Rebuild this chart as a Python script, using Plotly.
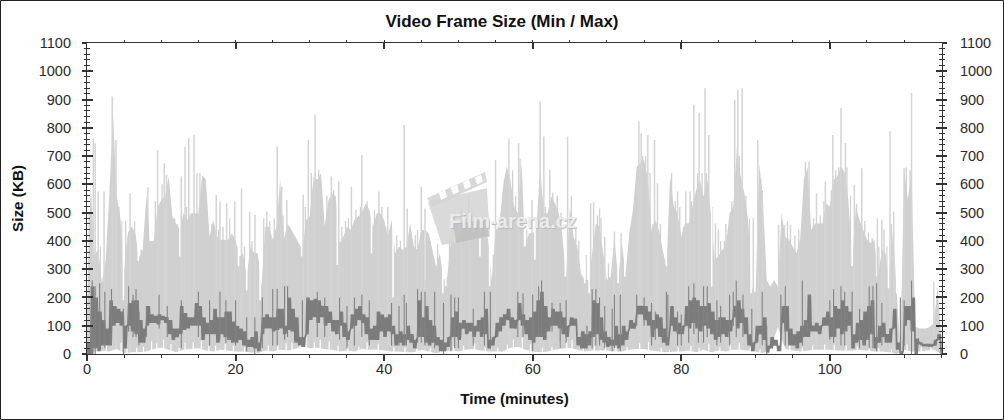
import plotly.graph_objects as go

# ---------- data ----------
env_step = 0.5
max_env = [150,600,350,370,250,330,560,850,560,480,
 300,430,450,430,340,370,563,400,400,520,545,
 557,628,486,460,440,500,474,498,498,498,633,616,415,474,415,404,404,404,427,404,
 345,356,274,380,356,356,238,450,450,404,450,616,404,462,440,415,392,368,474,486,
 628,616,640,451,545,569,557,392,415,451,439,474,486,498,533,510,450,498,
 498,474,415,474,356,380,368,380,462,380,368,439,439,427,368,309,356,262,274,404,
 392,415,451,451,451,430,450,451,451,404,262,439,450,592,663,616,521,498,675,380,
 427,427,440,663,498,498,557,533,498,415,274,521,415,380,285,262,262,356,462,451,
 356,262,274,415,262,392,285,427,510,663,675,687,616,439,474,
 439,368,309,628,521,498,415,462,462,521,580,616,557,616,498,333,345,368,380,498,
 521,734,628,569,474,238,215,675,545,262,238,262,238,500,415,404,380,356,404,616,
 663,439,462,462,462,533,521,616,628,663,640,545,321,521,474,439,404,392,404,274,
 368,356,238,439,215,5,651,545,640,97,90,90,90,97,108,238,50]

spike_t = [0.85,1.1,1.5,2.3,3.4,3.9,5.8,9.5,10.4,10.7,12.7,13.2,13.7,14.4,17.4,17.9,18.8,19.9,20.8,21.9,22.6,24.2,25.6,26.2,26.9,29.1,29.8,30.7,32.9,33.9,35.6,37,
 39.3,40.5,42.7,43.1,44.5,45,45.5,50.4,51.4,55,56.8,58.1,59.9,61,61.5,62.3,64.7,67.8,68.2,69,69.7,71,71.9,74.3,74.6,75.5,76.4,76.8,
 79.5,80.6,81.2,81.7,82.4,83.2,83.7,84.6,85,86,87.2,87.6,88.2,89.7,90.3,90.9,93.1,93.9,94.7,95.8,98.2,99.4,100.4,101.5,102.1,103.3,104.3,106.4,107,107.3,108.1,108.6,110,111,114]
spike_v = [763,745,575,575,911,757,569,722,675,634,628,734,763,775,563,539,533,539,586,504,492,504,734,592,545,563,757,846,628,610,592,704,
 575,521,810,515,439,592,515,520,557,687,763,746,545,893,769,651,769,533,539,515,415,433,427,822,781,775,757,604,
 575,575,575,881,852,940,775,462,440,460,899,935,940,480,757,580,456,456,456,440,568,610,775,870,746,598,657,480,475,440,788,504,657,923,256]

fine_t = [0.3,1.8,2.7,4.3,4.7,5.2,6.4,7.3,7.8,8.2,9.2,10.1,11.2,11.8,12.2,13.4,14.8,15.2,15.7,16.2,16.8,17.7,18.3,19.2,20.2,21.2,22.2,23.8,24.6,25.2,26.4,27.3,27.8,28.3,29.4,30.2,31.2,31.8,32.3,33.2,34.3,34.8,35.2,36.2,36.8,37.7,38.7,39.7,40.2,41.7,42.2,43.6,44.2,46.2,47.2,48.8,49.2,49.8,50.8,51.8,52.3,53.2,54.7,55.6,56.2,57.3,57.7,58.3,59.2,60.7,61.7,62.7,63.3,63.8,65.2,65.8,66.2,67.2,68.7,69.2,70.2,71.3,72.2,73.2,73.8,74.8,75.2,75.8,76.2,77.2,78.7,79.2,79.8,80.3,81.4,82.2,82.8,83.4,84.2,85.3,85.8,86.2,86.8,87.8,88.7,89.2,90.7,92.3,93.6,94.3,95.3,96.7,97.2,97.8,98.7,99.2,100.2,100.8,101.2,102.3,102.8,103.6,104.7,105.2,105.7,106.6,107.7,108.3,110.3,110.8]
fine_v = [500,380,350,520,470,470,470,370,440,590,540,600,500,480,460,520,640,640,560,480,460,440,450,480,380,380,400,480,470,480,490,450,420,400,520,640,650,500,560,580,450,470,480,510,520,540,510,520,450,420,400,420,420,400,390,430,430,470,480,470,480,480,350,480,620,650,560,690,440,480,520,570,560,500,560,440,400,350,490,480,320,320,330,450,540,700,700,640,460,460,640,540,520,450,540,640,640,640,520,400,400,420,540,700,560,480,620,240,420,470,420,680,680,480,490,540,580,650,660,660,560,530,470,430,410,380,380,460,660,650]

notch_t = [4.9,6.9,8.5,12.5,20.4,21.5,23.3,28.9,33.7,38.3,41.2,45.5,47.9,48.3,52.9,54.2,58.9,60.3,64.4,67,67.6,69.7,71.5,72.4,78,84.1,89.4,103,106.3,107.9,109]
notch_v = [190,330,400,345,310,225,190,345,315,356,200,260,215,240,345,240,380,333,274,250,215,262,250,274,310,238,215,310,274,232,215]

avg_lo = [0,0,20,10,30,30,30,100,110,100,20,100,80,70,40,40,100,110,110,105,120,110,70,50,60,70,85,90,100,100,100,50,70,70,70,40,70,60,50,40,40,50,30,25,25,20,10,70,90,90,80,85,90,70,85,80,40,30,25,70,120,130,110,130,100,110,80,70,100,60,50,90,100,120,110,70,50,50,
 50,80,60,80,70,30,40,30,50,40,20,60,60,40,30,40,30,10,10,25,60,60,50,90,70,80,60,80,60,70,20,30,60,80,100,120,90,90,120,100,70,50,40,60,60,50,80,100,100,90,70,60,100,100,30,20,20,30,60,70,50,40,25,30,30,20,30,50,90,90,140,140,120,100,60,90,
 60,40,30,100,80,70,70,100,90,110,90,80,100,90,70,50,60,70,60,80,130,90,110,70,30,10,40,70,50,5,20,30,10,110,80,30,30,20,40,60,60,80,80,70,100,100,60,60,90,70,80,100,20,40,50,30,50,70,20,40,60,40,40,90,15,0,100,120,80,0,35,28,28,28,30,50,0]
avg_hi = [40,240,200,150,120,90,190,170,160,150,100,180,190,190,120,90,170,140,135,140,135,130,120,90,90,170,145,130,130,180,170,130,110,120,160,130,130,150,150,115,100,90,80,50,60,80,40,130,140,130,130,160,160,100,200,160,130,60,60,200,190,195,190,170,170,150,120,120,150,110,80,140,160,170,140,130,90,100,
 150,140,130,140,100,70,80,70,100,70,50,190,130,170,120,100,60,50,40,60,130,150,110,120,110,110,100,120,130,160,50,60,110,130,140,160,130,120,180,140,120,130,150,190,220,170,130,160,150,150,130,100,130,125,60,80,70,80,190,180,130,80,60,50,100,70,100,80,120,110,170,170,170,150,120,140,
 130,90,60,170,130,110,100,170,190,200,190,170,170,180,150,120,130,130,120,120,170,190,160,130,70,40,100,100,130,30,60,50,30,170,170,90,70,80,100,120,210,100,110,100,130,150,130,170,160,190,170,150,70,110,120,150,170,190,60,100,110,70,90,160,40,10,170,170,200,55,40,35,33,33,50,70,20]

dark_t = [0.7,1.1,1.7,2.4,3.3,4.9,5.6,6.2,6.6,7,8,9.7,10.8,12.7,15,16.5,17.9,18.7,20,21.5,22.6,23.6,25,25.6,26.6,27,29,31,32,34,35,36,37,38,
 41,42,42.7,43,44.5,45,45.5,46.8,48,49,49.5,50,52,53.5,54.3,58,58.7,60,60.8,61.2,62.6,63.7,64.5,67.3,68,68.5,69,69.7,70.7,71,71.8,74,75,76,76.5,
 78,78.2,79.5,80,81,81.7,82.3,83,83.5,84.8,85.3,86.5,87,87.4,88.3,89.5,90.9,91.5,93.4,94,96.3,97,100,100.5,101.5,102,103,104,105.3,105.8,106.3,107,109.5,110,111]
dark_lo = [0,0,20,20,40,0,80,60,60,30,60,90,60,20,60,30,50,40,30,10,0,20,30,30,50,60,30,60,60,50,20,30,60,30,
 30,30,30,30,40,40,30,20,0,10,20,20,30,30,20,60,60,10,60,60,80,20,40,20,20,30,30,20,10,20,10,100,100,30,50,
 30,50,30,30,40,70,40,40,60,30,40,30,100,60,60,20,30,0,10,30,30,80,50,40,30,30,20,20,20,20,10,30,0,30,0]
dark_hi = [260,240,250,220,230,160,240,210,230,150,170,210,170,190,220,190,220,190,190,130,130,200,230,230,240,240,190,220,200,200,170,200,210,190,
 180,170,210,180,230,220,220,220,180,210,200,200,160,220,220,220,215,210,240,260,180,180,190,100,230,230,200,170,160,210,210,210,200,180,150,
 220,210,150,140,240,250,190,240,240,190,170,210,220,260,210,160,220,100,210,240,260,120,190,230,240,220,220,160,240,240,250,180,200,190,260]

min_env = [0,6,12,9,18,3,6,6,9,18,22,15,6,15,18,20,12,9,15,12,9,9,6,3,12,9,15,12,18,28,20,22,18,15,9,12,9,18,15,15,
 12,9,9,6,6,15,9,3,9,12,9,15,18,12,9,9,9,22,26,15,9,6,9,15,18,22,15,9,12,12,12,9,9,15,18,18,12,9,6,9,
 9,12,6,15,6,12,9,15,15,12,9,3,18,95,18,12,9,12,15,15,15,12,12,12,15,12,9,9,6,0,15,9,9,12,15,0]

white_t = [1.4,2.6,4.6,5.4,6.7,7.6,8.7,9.4,10.3,11.3,12.4,13.2,14.3,15.4,16.4,17.3,18.6,19.7,21.2,22.7,24.4,25.7,26.8,27.6,28.7,29.5,30.6,31.4,32.6,33.8,35.1,36.6,37.7,39.2,41.3,42.8,44.4,46.2,47.6,49.4,50.7,52.2,53.6,55.3,56.6,57.4,58.6,59.7,61.3,62.6,63.7,64.6,65.3,66.8,68.3,69.8,71.2,72.7,74.4,75.6,77.3,78.4,79.6,81.3,82.4,83.7,85.2,86.6,87.8,89.3,90.6,92.3,93.4,94.6,96.3,97.7,99.3,100.6,102.2,103.7,105.3,106.6,108.3,110.4,112.3,113.6]
white_v = [28,35,40,18,22,25,45,38,50,35,22,40,42,48,28,30,36,28,24,18,30,32,38,40,46,58,42,50,44,30,28,26,42,34,25,24,18,22,14,28,30,38,24,22,34,52,58,34,22,26,40,46,50,24,28,30,22,24,38,42,22,14,24,28,20,36,24,34,38,26,18,42,90,36,22,30,34,32,30,28,26,20,16,34,24,32]

x_ticks = [0,20,40,60,80,100]
y_ticks = [0,100,200,300,400,500,600,700,800,900,1000,1100]
x_max = 115.1
y_max = 1100

# ---------- derived grids / helpers ----------
W, H = 1004, 420
L, R, T, B = 87, 942, 43, 354
LIGHT, DARK, AXIS, TXT = "#d0d0d0", "#7c7c7c", "#333333", "#2a2a2a"
FONT = "Liberation Sans"

t_env = [i * env_step for i in range(len(max_env))]
t_avg = [i * env_step for i in range(len(avg_lo))]
t_min = list(range(len(min_env)))

def segs(ts, los, his):
    xs, ys = [], []
    for t, a, b in zip(ts, los, his):
        xs += [t, t, None]
        ys += [a, b, None]
    return xs, ys

def zigzag(ts, los, his):
    xs, ys = [], []
    for t, a, b in zip(ts, los, his):
        xs += [t, t + 0.12, t + 0.25, t + 0.37]
        ys += [a, b, a, b]
    return xs, ys

def pap_x(x): return (x - L) / (R - L)
def pap_y(y): return (B - y) / (B - T)
def poly(pts):
    return "M " + " L ".join(f"{pap_x(a):.4f} {pap_y(b):.4f}" for a, b in pts) + " Z"

fig = go.Figure()
fig.add_trace(go.Scatter(x=t_env, y=max_env, mode="lines", line=dict(color=LIGHT, width=0),
                         fill="tozeroy", fillcolor=LIGHT, hoverinfo="skip"))
x, y = segs(fine_t, [0] * len(fine_t), fine_v)
fig.add_trace(go.Scatter(x=x, y=y, mode="lines", line=dict(color=LIGHT, width=1.3), hoverinfo="skip"))
x, y = segs(notch_t, notch_v, [y_max] * len(notch_t))
fig.add_trace(go.Scatter(x=x, y=y, mode="lines", line=dict(color="white", width=1.6), hoverinfo="skip"))
x, y = segs(spike_t, [0] * len(spike_t), spike_v)
fig.add_trace(go.Scatter(x=x, y=y, mode="lines", line=dict(color="#d4d4d4", width=1.5), hoverinfo="skip"))
fig.add_trace(go.Scatter(x=t_min, y=min_env, mode="lines", line=dict(color="white", width=0),
                         fill="tozeroy", fillcolor="white", hoverinfo="skip"))
x, y = segs(white_t, [0] * len(white_t), white_v)
fig.add_trace(go.Scatter(x=x, y=y, mode="lines", line=dict(color="white", width=1.2), hoverinfo="skip"))
x, y = zigzag(t_avg, avg_lo, avg_hi)
fig.add_trace(go.Scatter(x=x, y=y, mode="lines", line=dict(color=DARK, width=1.7), hoverinfo="skip"))
x, y = segs(dark_t, dark_lo, dark_hi)
fig.add_trace(go.Scatter(x=x, y=y, mode="lines", line=dict(color="#828282", width=1.1), hoverinfo="skip"))
fig.add_trace(go.Scatter(x=[None], y=[None], xaxis="x2", yaxis="y2", hoverinfo="skip"))
fig.add_trace(go.Scatter(x=[None], y=[None], xaxis="x", yaxis="y3", hoverinfo="skip"))

tickfont = dict(family=FONT, size=14.5, color=TXT)
titlefont = dict(family=FONT, size=15.3, color="#111111")
fig.update_layout(
    width=W, height=H, showlegend=False, paper_bgcolor="white", plot_bgcolor="white",
    margin=dict(l=L, r=W - R, t=T, b=H - B, pad=0),
    title=dict(text="<b>Video Frame Size (Min / Max)</b>", x=0.5, xanchor="center", xref="container",
               y=1 - 21 / H, yanchor="middle", font=dict(family=FONT, size=17, color="#111111")),
    xaxis=dict(range=[0, x_max], tickmode="array", tickvals=x_ticks, ticks="outside", ticklen=6, tickwidth=1.5,
               tickcolor=AXIS, showline=True, linecolor=AXIS, linewidth=1.2, showgrid=False, zeroline=False,
               tickfont=tickfont, ticklabelstandoff=-5,
               minor=dict(dtick=5, tick0=0, ticks="outside", ticklen=3, tickcolor=AXIS, tickwidth=1, showgrid=False),
               title=dict(text="<b>Time (minutes)</b>", standoff=17, font=titlefont)),
    xaxis2=dict(range=[0, x_max], overlaying="x", side="top", anchor="y", tickmode="array", tickvals=x_ticks,
                ticks="inside", ticklen=6, tickwidth=1.5, tickcolor=AXIS, showline=True, linecolor=AXIS, linewidth=1.2,
                showgrid=False, zeroline=False, showticklabels=False,
                minor=dict(dtick=5, tick0=0, ticks="outside", ticklen=2, tickcolor=AXIS, tickwidth=1, showgrid=False)),
    yaxis=dict(range=[0, y_max], tickmode="array", tickvals=y_ticks, ticks="outside", ticklen=4, tickwidth=1.5,
               tickcolor=AXIS, showline=True, linecolor=AXIS, linewidth=1.2, showgrid=False, zeroline=False, mirror="ticks",
               tickfont=tickfont, ticklabelstandoff=8,
               minor=dict(dtick=20, tick0=0, ticks="outside", ticklen=2, tickcolor=AXIS, tickwidth=1, showgrid=False),
               title=dict(text="<b>Size (KB)</b>", standoff=11, font=titlefont)),
    yaxis2=dict(range=[0, y_max], overlaying="y", side="left", anchor="x", tickmode="array", tickvals=y_ticks,
                ticks="inside", ticklen=6, tickwidth=1.5, tickcolor=AXIS, showline=True, linecolor=AXIS, linewidth=1.2,
                showgrid=False, zeroline=False, mirror="ticks", showticklabels=False,
                minor=dict(dtick=20, tick0=0, ticks="inside", ticklen=3, tickcolor=AXIS, tickwidth=1, showgrid=False)),
    yaxis3=dict(range=[0, y_max], overlaying="y", side="right", anchor="x", tickmode="array", tickvals=y_ticks,
                ticks="outside", ticklen=6, tickcolor="rgba(0,0,0,0)", showline=False, showgrid=False, zeroline=False,
                tickfont=tickfont, ticklabelstandoff=8),
)

shapes = [
    dict(type="rect", xref="paper", yref="paper", x0=pap_x(0.5), x1=pap_x(W - 0.5), y0=pap_y(0.5), y1=pap_y(H - 0.5),
         line=dict(color="#222222", width=1), fillcolor="rgba(0,0,0,0)", layer="above"),
    dict(type="path", xref="paper", yref="paper", layer="above", line=dict(width=0), fillcolor="rgba(212,212,212,0.85)",
         path=poly([(428, 202), (487, 188), (490, 237), (442, 245)])),
    dict(type="path", xref="paper", yref="paper", layer="above", line=dict(width=0), fillcolor="rgba(175,175,175,0.5)",
         path=poly([(453, 224), (487, 220), (489, 236), (456, 243)])),
    dict(type="path", xref="paper", yref="paper", layer="above", line=dict(width=0), fillcolor="rgba(212,212,212,0.9)",
         path=poly([(427, 198), (485, 172), (487, 182), (432, 207)])),
]
for i in range(4):
    a = 439 + i * 12
    shapes.append(dict(type="path", xref="paper", yref="paper", layer="above", line=dict(width=0), fillcolor="white",
                       path=poly([(a, 193 - i * 5.2), (a + 6, 190 - i * 5.2), (a + 8, 197 - i * 5.2), (a + 2, 200 - i * 5.2)])))
fig.update_layout(shapes=shapes)
fig.add_annotation(text="<b>Film-arena.cz</b>", xref="paper", yref="paper", x=pap_x(513), y=pap_y(221),
                   showarrow=False, font=dict(family=FONT, size=20, color="#ebebeb", shadow="1px 1px 1px #b8b8b8"))

fig.write_html("out.html", config={"displayModeBar": False},
               post_script="document.body.style.margin='0';document.documentElement.style.overflow='hidden';")
